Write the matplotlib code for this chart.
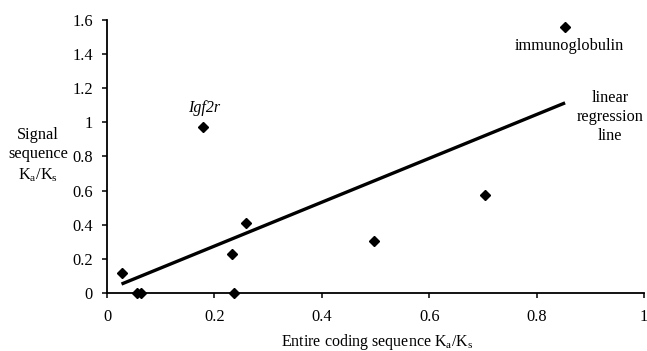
import numpy as np
import matplotlib.pyplot as plt

plt.rcParams['font.family'] = ['Liberation Serif', 'DejaVu Serif']
plt.rcParams['mathtext.fontset'] = 'custom'
plt.rcParams['mathtext.rm'] = 'Liberation Serif'
plt.rcParams['mathtext.it'] = 'Liberation Serif:italic'

# Ka/Ks of the entire coding sequence vs. the signal sequence
entire_kaks = [0.027, 0.055, 0.063, 0.233, 0.236, 0.259, 0.179, 0.498, 0.704, 0.853]
signal_kaks = [0.12, 0.0, 0.0, 0.227, 0.0, 0.41, 0.973, 0.307, 0.574, 1.561]
x_ticks = [0, 0.2, 0.4, 0.6, 0.8, 1]
y_ticks = [0, 0.2, 0.4, 0.6, 0.8, 1, 1.2, 1.4, 1.6]

fig = plt.figure(figsize=(6.47, 3.51), dpi=100)
ax = fig.add_axes([0.1654, 0.1652, 0.83, 0.778])

x = np.array(entire_kaks)
y = np.array(signal_kaks)
slope, intercept = np.polyfit(x, y, 1)
xl = np.array([x.min(), x.max()])
ax.plot(xl, slope * xl + intercept, color='black', linewidth=2.4, solid_capstyle='butt')

ax.plot(x, y, linestyle='none', marker='D', markersize=5.3, color='black', clip_on=False, zorder=3)

ax.set_xlim(0, 1)
ax.set_ylim(0, 1.6)
ax.set_xticks(x_ticks)
ax.set_xticklabels(['0', '0.2', '0.4', '0.6', '0.8', '1'])
ax.set_yticks(y_ticks)
ax.set_yticklabels(['0', '0.2', '0.4', '0.6', '0.8', '1', '1.2', '1.4', '1.6'])

ax.spines['right'].set_color('none')
ax.spines['top'].set_color('none')
for s in ('left', 'bottom'):
    ax.spines[s].set_linewidth(1.3)
ax.tick_params(direction='out', length=3.5, width=1.1, labelsize=11.8)
ax.tick_params(axis='y', pad=6.5)
ax.tick_params(axis='x', pad=8)

ax.text(0.181, 1.037, 'Igf2r', style='italic', ha='center', va='bottom', fontsize=11.5)
ax.text(0.86, 1.45, 'immunoglobulin', ha='center', va='center', fontsize=11.8)
ax.text(0.937, 1.032, 'linear\nregression\nline', ha='center', va='center',
        fontsize=11.7, linespacing=1.25)

fig.text(0.059, 0.558, 'Signal\nsequence\nK$_{\\mathrm{a}}$/K$_{\\mathrm{s}}$', ha='center', va='center',
         fontsize=11.8, linespacing=1.3)
fig.text(0.583, 0.0145, 'Entire coding sequence K$_{\\mathrm{a}}$/K$_{\\mathrm{s}}$', ha='center', va='baseline',
         fontsize=11.5)

fig.savefig('out.png', dpi=100)
